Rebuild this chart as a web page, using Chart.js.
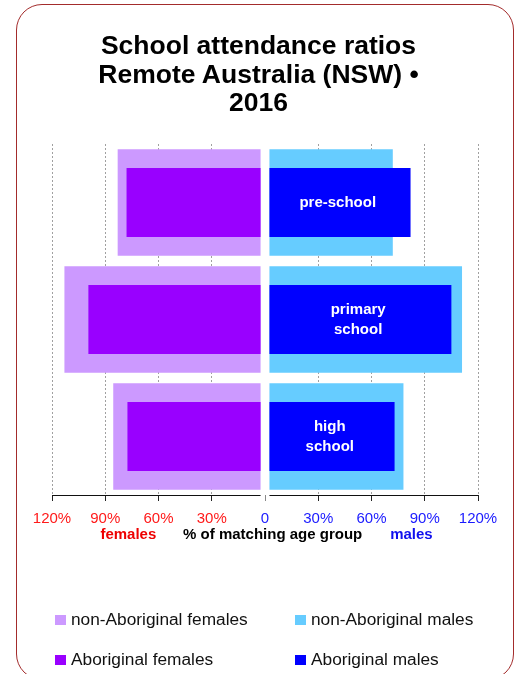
<!DOCTYPE html>
<html>
<head>
<meta charset="utf-8">
<script src="https://cdn.jsdelivr.net/npm/chart.js@4"></script>
<style>
  html, body { margin: 0; padding: 0; background: #fff; }
  body { width: 517px; height: 674px; position: relative; overflow: hidden; font-family: "Liberation Sans", Arial, sans-serif; }
  #frame { position: absolute; left: 16px; top: 4px; width: 498px; height: 676px; border: 1px solid #a32c2c; border-radius: 26px; box-sizing: border-box; }
  #title { position: absolute; left: 0; top: 31px; width: 517px; text-align: center; font-weight: bold; font-size: 26.5px; line-height: 28.5px; color: #000; }
  #chart { position: absolute; left: 0; top: 0; }
  .lg { position: absolute; font-size: 17.3px; color: #111; white-space: nowrap; }
  .lg span { display: inline-block; width: 11px; height: 10px; margin-right: 5px; vertical-align: 0px; }
</style>
</head>
<body>
<div id="frame"></div>
<canvas id="chart" width="517" height="674"></canvas>
<div id="title">School attendance ratios<br>Remote Australia (NSW) •<br>2016</div>
<div class="lg" style="left:55px;top:609px"><span style="background:#cc99ff"></span>non-Aboriginal females</div>
<div class="lg" style="left:295px;top:609px"><span style="background:#66ccff"></span>non-Aboriginal males</div>
<div class="lg" style="left:55px;top:649px"><span style="background:#9900ff"></span>Aboriginal females</div>
<div class="lg" style="left:295px;top:649px"><span style="background:#0000ff"></span>Aboriginal males</div>
<script>
// categories (labels drawn inside the bars)
var categories = [["pre-school"], ["primary", "school"], ["high", "school"]];

// % of matching age group
var nonAbFemales = [83, 113, 85.5];
var abFemales = [78, 99.5, 77.5];
var nonAbMales = [72, 111, 78];
var abMales = [82, 105, 73];

var tickValues = [-120, -90, -60, -30, 0, 30, 60, 90, 120];

// small gap round the zero line
var GAP = 2.5;

function left(arr) { return arr.map(function (v) { return [-GAP, -v]; }); }
function right(arr) { return arr.map(function (v) { return [GAP, v]; }); }

// axis line with a gap in the middle + bottom captions + labels in bars
var extras = {
    id: 'extras',
    afterDatasetsDraw: function (chart) {
        var ctx = chart.ctx;
        var xs = chart.scales.x;
        var area = chart.chartArea;
        var y = Math.round(area.bottom) + 0.5;

        ctx.save();
        ctx.strokeStyle = '#111';
        ctx.lineWidth = 1;
        ctx.beginPath();
        ctx.moveTo(area.left, y);
        ctx.lineTo(xs.getPixelForValue(-GAP), y);
        ctx.moveTo(xs.getPixelForValue(GAP), y);
        ctx.lineTo(area.right, y);
        ctx.stroke();

        ctx.font = 'bold 15px "Liberation Sans", Arial, sans-serif';
        ctx.textAlign = 'center';
        ctx.textBaseline = 'alphabetic';
        ctx.fillStyle = '#ee0000';
        ctx.fillText('females', xs.getPixelForValue(-77), 539);
        ctx.fillStyle = '#000';
        ctx.fillText('% of matching age group', xs.getPixelForValue(4.3), 539);
        ctx.fillStyle = '#1010ee';
        ctx.fillText('males', xs.getPixelForValue(82.5), 539);

        // category names, centred between zero and the end of the Aboriginal males bar
        var meta = chart.getDatasetMeta(3);
        ctx.fillStyle = '#fff';
        ctx.textBaseline = 'middle';
        meta.data.forEach(function (bar, i) {
            var lines = categories[i];
            var cx = (xs.getPixelForValue(0) + bar.x) / 2;
            var lh = 20;
            var y0 = bar.y - (lines.length - 1) * lh / 2;
            lines.forEach(function (t, k) {
                ctx.fillText(t, cx, y0 + k * lh);
            });
        });
        ctx.restore();
    }
};

var ctx = document.getElementById('chart').getContext('2d');
var myChart = new Chart(ctx, {
    type: 'bar',
    data: {
        labels: categories.map(function (c) { return c.join(' '); }),
        datasets: [
            { label: 'Aboriginal females', data: left(abFemales), backgroundColor: '#9900ff', barPercentage: 0.59, order: 1 },
            { label: 'non-Aboriginal females', data: left(nonAbFemales), backgroundColor: '#cc99ff', barPercentage: 0.91, order: 2 },
            { label: 'non-Aboriginal males', data: right(nonAbMales), backgroundColor: '#66ccff', barPercentage: 0.91, order: 2 },
            { label: 'Aboriginal males', data: right(abMales), backgroundColor: '#0000ff', barPercentage: 0.59, order: 1 }
        ]
    },
    options: {
        indexAxis: 'y',
        responsive: false,
        animation: false,
        events: [],
        datasets: { bar: { grouped: false, categoryPercentage: 1, borderWidth: 0 } },
        layout: { padding: { left: 52, right: 39, top: 144, bottom: 129 } },
        plugins: {
            legend: { display: false },
            title: { display: false },
            tooltip: { enabled: false }
        },
        scales: {
            y: { display: false, offset: true },
            x: {
                min: -120,
                max: 120,
                afterBuildTicks: function (scale) {
                    scale.ticks = tickValues.map(function (v) { return { value: v }; });
                },
                afterFit: function (scale) { scale.height = 50; },
                border: { display: false, dash: [2, 2] },
                grid: {
                    color: function (c) { return c.tick && c.tick.value === 0 ? 'rgba(0,0,0,0)' : '#a0a0a0'; },
                    tickColor: function (c) { return c.tick && c.tick.value === 0 ? '#888' : '#222'; },
                    tickLength: 6,
                    tickBorderDash: []
                },
                ticks: {
                    padding: 9,
                    maxRotation: 0,
                    autoSkip: false,
                    font: { family: '"Liberation Sans", Arial, sans-serif', size: 15 },
                    color: function (c) { return c.tick && c.tick.value < 0 ? '#ff1a1a' : '#1a1aff'; },
                    callback: function (v) { return v === 0 ? '0' : Math.abs(v) + '%'; }
                }
            }
        }
    },
    plugins: [extras]
});
</script>
</body>
</html>
